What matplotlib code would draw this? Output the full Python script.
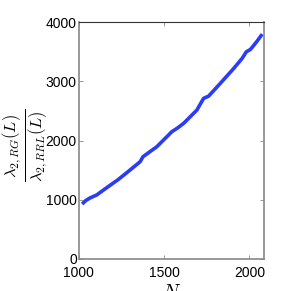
import matplotlib
matplotlib.use("Agg")
import matplotlib.pyplot as plt

plt.rcParams['mathtext.fontset'] = 'cm'

N = [1019, 1040, 1065, 1104, 1171, 1230, 1288, 1359, 1376, 1457, 1496, 1545,
     1580, 1614, 1692, 1731, 1761, 1829, 1908, 1957, 1982, 2006, 2040, 2075]
ratio = [928, 985, 1030, 1080, 1220, 1340, 1474, 1642, 1727, 1896, 2008, 2149,
         2215, 2290, 2515, 2712, 2751, 2965, 3218, 3387, 3499, 3539, 3660, 3797]

xticks = [1000, 1500, 2000]
yticks = [0, 1000, 2000, 3000, 4000]

fig = plt.figure(figsize=(2.91, 2.91), dpi=100)
ax = fig.add_axes([0.271, 0.110, 0.636, 0.814])
ax.plot(N, ratio, color='#2a3cf5', lw=2.6, solid_capstyle='butt')
ax.set_xlim(1000, 2085)
ax.set_ylim(0, 4000)
ax.set_xticks(xticks)
ax.set_yticks(yticks)
ax.set_xticklabels([str(t) for t in xticks], family='Liberation Sans', fontsize=10)
ax.set_yticklabels([str(t) for t in yticks], family='Liberation Sans', fontsize=10)
ax.tick_params(direction='in', length=3, width=0.6, color='#888888', top=True, right=True)
ax.tick_params(axis='x', pad=5)
ax.tick_params(axis='y', pad=1.5)
for s in ['left', 'bottom', 'right']:
    ax.spines[s].set_color('#888888')
    ax.spines[s].set_linewidth(1.2)
ax.spines['top'].set_color('#333333')
ax.spines['top'].set_linewidth(0.8)
fig.text(26 / 291, 1 - 145 / 291, r'$\frac{\lambda_{2,RG}(L)}{\lambda_{2,RRL}(L)}$',
         fontsize=17, rotation=90, ha='center', va='center')
ax.set_xlabel(r'$N$', fontsize=14, labelpad=2)
fig.savefig('out.png', dpi=100)
